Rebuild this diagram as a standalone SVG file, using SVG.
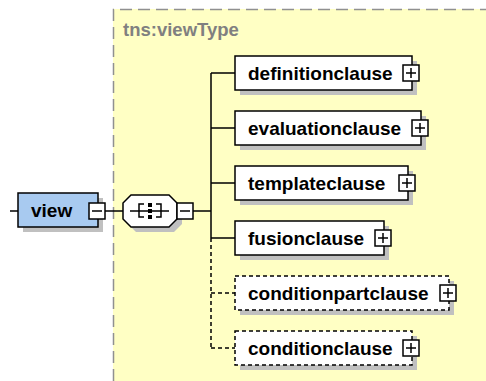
<svg xmlns="http://www.w3.org/2000/svg" width="486" height="381" viewBox="0 0 486 381">
<style>
.shadow{fill:#c0c0c0;stroke:none}
.box{fill:#ffffff;stroke:#000000;stroke-width:1.5}
.opt{fill:#ffffff;stroke:#000000;stroke-width:1.5;stroke-dasharray:4,3}
.lbl{font-family:"Liberation Sans",Arial,sans-serif;font-weight:bold;font-size:19px;fill:#000000}
.ln{stroke:#000000;stroke-width:1.5;fill:none}
.dln{stroke:#000000;stroke-width:1.5;fill:none;stroke-dasharray:4,3}
.pm{fill:#ffffff;stroke:#000000;stroke-width:1.5}
</style>
<defs>
<g id="plus"><rect class="pm" x="0" y="0" width="16" height="16"/><path class="ln" d="M3,8H13M8,3V13"/></g>
<g id="minus"><rect class="pm" x="0" y="0" width="16" height="16"/><path class="ln" d="M3,8H13"/></g>
</defs>
<rect width="486" height="381" fill="#ffffff"/>
<g id="type">
<rect x="113" y="9" width="380" height="380" fill="#ffffc4"/>
<path d="M113.5,381V9.5H486" fill="none" stroke="#909090" stroke-width="1.5" stroke-dasharray="12,6"/>
<text x="123" y="36" font-family="'Liberation Sans',Arial,sans-serif" font-weight="bold" font-size="18.5px" fill="#808080">tns:viewType</text>
</g>
<g id="connectors">
<path class="ln" d="M10,211H18M105,211H123M193,211H211M211,73V238M211,73H235M211,128H235M211,183H235M211,238H235"/>
<path class="dln" d="M211,238V348M211,293H235M211,348H235"/>
</g>
<g id="view">
<rect class="shadow" x="23" y="198" width="80" height="34"/>
<rect x="18" y="193" width="80" height="34" fill="#a8caf0" stroke="#000" stroke-width="1.5"/>
<text class="lbl" x="31" y="217">view</text>
<use href="#minus" x="89" y="203"/>
</g>
<g id="sequence">
<polygon class="shadow" points="136,200 174,200 182,208 182,224 174,232 136,232 128,224 128,208"/>
<polygon class="box" points="131,195 169,195 177,203 177,219 169,227 131,227 123,219 123,203"/>
<path class="ln" d="M130,211H169M144,204H139V217H144M156,204H161V217H156"/>
<rect x="148" y="203" width="4" height="4" fill="#000"/>
<rect x="148" y="209" width="4" height="4" fill="#000"/>
<rect x="148" y="215" width="4" height="4" fill="#000"/>
<use href="#minus" x="177" y="203"/>
</g>
<g id="definitionclause">
<rect class="shadow" x="240" y="61" width="177" height="34"/>
<rect class="box" x="235" y="56" width="177" height="34"/>
<text class="lbl" x="248" y="80">definitionclause</text>
<use href="#plus" x="403" y="65"/>
</g>
<g id="evaluationclause">
<rect class="shadow" x="240" y="116" width="186" height="34"/>
<rect class="box" x="235" y="111" width="186" height="34"/>
<text class="lbl" x="248" y="135">evaluationclause</text>
<use href="#plus" x="412" y="120"/>
</g>
<g id="templateclause">
<rect class="shadow" x="240" y="171" width="173" height="34"/>
<rect class="box" x="235" y="166" width="173" height="34"/>
<text class="lbl" x="248" y="190">templateclause</text>
<use href="#plus" x="399" y="175"/>
</g>
<g id="fusionclause">
<rect class="shadow" x="240" y="226" width="149" height="34"/>
<rect class="box" x="235" y="221" width="149" height="34"/>
<text class="lbl" x="248" y="245">fusionclause</text>
<use href="#plus" x="375" y="230"/>
</g>
<g id="conditionpartclause">
<rect class="shadow" x="240" y="281" width="214" height="34"/>
<rect class="opt" x="235" y="276" width="214" height="34"/>
<text class="lbl" x="248" y="300">conditionpartclause</text>
<use href="#plus" x="440" y="285"/>
</g>
<g id="conditionclause">
<rect class="shadow" x="240" y="336" width="177" height="34"/>
<rect class="opt" x="235" y="331" width="177" height="34"/>
<text class="lbl" x="248" y="355">conditionclause</text>
<use href="#plus" x="403" y="340"/>
</g>
</svg>
